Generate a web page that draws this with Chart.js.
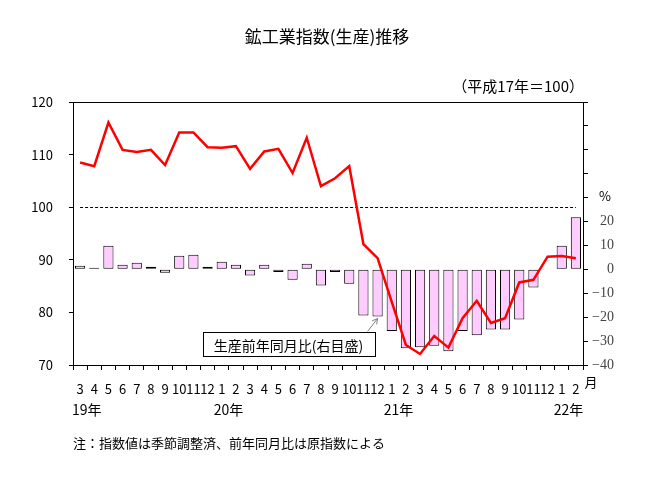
<!DOCTYPE html>
<html>
<head>
<meta charset="utf-8">
<script src="https://cdn.jsdelivr.net/npm/chart.js@4/dist/chart.umd.min.js"></script>
<style>
body{margin:0;background:#fff;}
#wrap{width:656px;height:486px;position:relative;}
</style>
</head>
<body>
<div id="wrap"><canvas id="myChart"></canvas></div>
<script>
// meses del eje x (19年3月 - 22年2月)
var months = ['3','4','5','6','7','8','9','10','11','12','1','2','3','4','5','6','7','8','9','10','11','12','1','2','3','4','5','6','7','8','9','10','11','12','1','2'];
var years = ['19年','20年','21年','22年'];
var yearStart = [0,10,22,34]; // indice del primer mes de cada año

// 指数 (左目盛, 季節調整済)
var indexValues = [108.5,107.8,116.1,110.9,110.5,110.9,108.0,114.2,114.2,111.4,111.3,111.6,107.3,110.6,111.1,106.5,113.2,104.0,105.5,107.8,93.0,90.3,82.0,73.8,72.1,75.5,73.3,78.9,82.2,78.0,78.9,85.7,86.2,90.6,90.7,90.3];
// 生産前年同月比 (右目盛, %)
var yoyValues = [1.5,0.7,9.9,1.9,2.8,1.1,-1.4,5.7,6.1,1.1,3.2,1.9,-2.6,1.9,-1.1,-4.3,2.4,-6.8,-1.1,-6.0,-19.3,-19.7,-25.8,-33.0,-32.6,-31.9,-34.2,-25.8,-27.6,-25.1,-25.1,-21.0,-7.6,0.3,9.9,21.8];

var baseLevel = 100; // 平成17年=100
var leftMin = 70, leftMax = 120;
var rightMin = -40, rightMax = 70, rightLabelMax = 20;

var fam = "'Noto Sans CJK JP', sans-serif";

// textos y lineas extra (titulo, linea 100, recuadro, años)
var extras = {
  id: 'extras',
  beforeDatasetsDraw: function(chart){
    var c = chart.ctx, x = chart.scales.x, y = chart.scales.y;
    var yy = Math.round(y.getPixelForValue(baseLevel)) + 0.5;
    c.save();
    c.strokeStyle = '#000';
    c.lineWidth = 1;
    c.setLineDash([3,2]);
    c.beginPath();
    c.moveTo(x.getPixelForValue(0), yy);
    c.lineTo(x.getPixelForValue(months.length-1), yy);
    c.stroke();
    c.restore();
  },
  afterDraw: function(chart){
    var c = chart.ctx, a = chart.chartArea, x = chart.scales.x, y2 = chart.scales.y2;
    c.save();
    // marco superior
    c.strokeStyle = '#000';
    c.lineWidth = 1;
    c.beginPath();
    c.moveTo(a.left, Math.round(a.top)+0.5);
    c.lineTo(a.right, Math.round(a.top)+0.5);
    c.stroke();

    c.fillStyle = '#000';
    c.textBaseline = 'middle';
    c.textAlign = 'center';
    c.font = '17px ' + fam;
    c.fillText('鉱工業指数(生産)推移', 327, 37);

    c.textAlign = 'right';
    c.font = '15px ' + fam;
    c.fillText('（平成17年＝100）', 584, 86);

    // etiquetas del eje derecho (alineadas a la derecha)
    c.fillStyle = '#444';
    c.font = "14px 'Liberation Serif', serif";
    y2.ticks.forEach(function(t){
      if (t.value > rightLabelMax) return;
      var txt = t.value < 0 ? '\u2212' + (-t.value) : String(t.value);
      c.fillText(txt, 614, y2.getPixelForValue(t.value));
    });

    c.fillStyle = '#000';
    c.textAlign = 'center';
    c.font = '13px ' + fam;
    c.fillText('%', 605, 196);
    c.fillText('月', 591, 382);

    // años debajo de los meses
    c.textAlign = 'left';
    c.font = '14px ' + fam;
    for (var i=0; i<years.length; i++){
      c.fillText(years[i], x.getPixelForValue(yearStart[i]) - 8, 410);
    }

    // nota
    c.font = '13px ' + fam;
    c.fillText('注：指数値は季節調整済、前年同月比は原指数による', 73, 443);

    // flecha y recuadro del 前年同月比
    var tx = x.getPixelForValue(21), ty = y2.getPixelForValue(yoyValues[21]) + 2;
    var sx = tx - 10, sy = ty + 13;
    c.strokeStyle = '#808080';
    c.beginPath();
    c.moveTo(sx, sy); c.lineTo(tx, ty);
    var ang = Math.atan2(ty-sy, tx-sx);
    c.moveTo(tx, ty); c.lineTo(tx - 6*Math.cos(ang-0.5), ty - 6*Math.sin(ang-0.5));
    c.moveTo(tx, ty); c.lineTo(tx - 6*Math.cos(ang+0.5), ty - 6*Math.sin(ang+0.5));
    c.stroke();

    var bw = 172, bh = 24, br = tx - 3, bt = sy + 1;
    c.fillStyle = '#fff';
    c.fillRect(br-bw, bt, bw, bh);
    c.strokeStyle = '#000';
    c.strokeRect(Math.round(br-bw)+0.5, Math.round(bt)+0.5, bw, bh);
    c.fillStyle = '#000';
    c.textAlign = 'center';
    c.font = '14px ' + fam;
    c.fillText('生産前年同月比(右目盛)', br - bw/2, bt + bh/2 + 1);
    c.restore();
  }
};

var ctx = document.getElementById('myChart').getContext('2d');
var chart = new Chart(ctx, {
  type: 'bar',
  data: {
    labels: months,
    datasets: [
      {
        type: 'line',
        label: '指数',
        data: indexValues,
        yAxisID: 'y',
        borderColor: '#ff0000',
        borderWidth: 2.5,
        pointRadius: 0,
        fill: false,
        tension: 0,
        order: 0
      },
      {
        type: 'bar',
        label: '前年同月比',
        data: yoyValues,
        yAxisID: 'y2',
        backgroundColor: '#ffccff',
        borderColor: '#000',
        borderWidth: 1,
        borderSkipped: false,
        barPercentage: 0.72,
        categoryPercentage: 1,
        order: 1
      }
    ]
  },
  options: {
    responsive: true,
    maintainAspectRatio: false,
    animation: false,
    layout: {padding: {top: 102, left: 0, right: 0, bottom: 0}},
    plugins: {legend: {display: false}, tooltip: {enabled: false}},
    scales: {
      x: {
        offset: true,
        grid: {offset: true, drawOnChartArea: false, tickLength: 5, color: '#000'},
        border: {color: '#000', width: 1},
        ticks: {autoSkip: false, maxRotation: 0, minRotation: 0, padding: 11, color: '#000', font: {size: 13, family: fam}},
        afterFit: function(s){ s.height = 121; }
      },
      y: {
        position: 'left',
        min: leftMin, max: leftMax,
        grid: {drawOnChartArea: false, tickLength: 4, color: '#000'},
        border: {color: '#000', width: 1},
        ticks: {stepSize: 10, padding: 16, color: '#000', font: {size: 13, family: fam}},
        afterFit: function(s){ s.width = 73; }
      },
      y2: {
        position: 'right',
        min: rightMin, max: rightMax,
        grid: {drawOnChartArea: false, tickLength: 5, color: '#000'},
        border: {color: '#000', width: 1},
        ticks: {stepSize: 10, display: false},
        afterFit: function(s){ s.width = 73; }
      }
    }
  },
  plugins: [extras]
});
</script>
</body>
</html>
